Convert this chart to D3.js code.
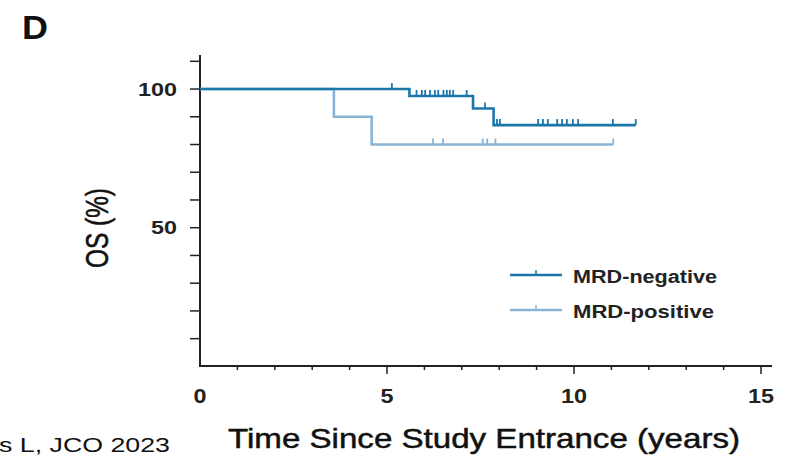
<!DOCTYPE html>
<html>
<head>
<meta charset="utf-8">
<script src="https://cdn.jsdelivr.net/npm/d3@7"></script>
<style>
  body { margin: 0; background: #fff; }
  svg { display: block; font-family: "Liberation Sans", Arial, sans-serif; }
</style>
</head>
<body>
<svg id="chart" width="790" height="459"></svg>
<script>
// KM steps: [time (years), OS %]
const negSteps = [[0, 100], [5.6, 97.5], [7.3, 93], [7.85, 87]];
const negEnd = 11.65;
const negCensor = [5.13, 5.79, 5.93, 6.02, 6.15, 6.28, 6.37, 6.51, 6.6, 6.68, 6.77, 7.13,
  7.62, 7.94, 8.02, 9.04, 9.17, 9.3, 9.55, 9.68, 9.81, 9.97, 10.11, 11.04, 11.65];

const posSteps = [[0, 100], [3.58, 90], [4.59, 80]];
const posEnd = 11.05;
const posCensor = [6.23, 6.5, 7.56, 7.68, 7.9, 11.05];

const xTicks = [0, 5, 10, 15];
const yTicks = [50, 100];
const series = ["MRD-negative", "MRD-positive"];
const colors = ["#1b77aa", "#88b5d7"];

const svg = d3.select("#chart");

const x = d3.scaleLinear().domain([0, 15]).range([200, 761]);
const y = d3.scaleLinear().domain([0, 110]).range([366.4, 61.3]);

// step function lookup
function survAt(steps, t) {
  let v = steps[0][1];
  steps.forEach(s => { if (s[0] <= t) v = s[1]; });
  return v;
}

// axes
const axisColor = "#222";
svg.append("line").attr("x1", 200).attr("x2", 200).attr("y1", 55).attr("y2", 366)
  .attr("stroke", axisColor).attr("stroke-width", 2);
svg.append("line").attr("x1", 199).attr("x2", 772).attr("y1", 366).attr("y2", 366)
  .attr("stroke", axisColor).attr("stroke-width", 2);

// y ticks every 10
d3.range(10, 111, 10).forEach(v => {
  svg.append("line").attr("x1", 190).attr("x2", 200).attr("y1", y(v)).attr("y2", y(v))
    .attr("stroke", axisColor).attr("stroke-width", 1.5);
});
yTicks.forEach(v => {
  const s = String(v);
  svg.append("text").attr("x", 177).attr("y", y(v) + 6.5)
    .attr("text-anchor", "end").attr("font-size", 19).attr("font-weight", "bold")
    .attr("fill", "#222")
    .attr("textLength", s.length * 13).attr("lengthAdjust", "spacingAndGlyphs")
    .text(s);
});

// x ticks every year
d3.range(1, 16).forEach(v => {
  const major = v % 5 === 0;
  svg.append("line").attr("x1", x(v)).attr("x2", x(v)).attr("y1", 366).attr("y2", major ? 374 : 370)
    .attr("stroke", axisColor).attr("stroke-width", 1.5);
});
xTicks.forEach(v => {
  const s = String(v);
  svg.append("text").attr("x", x(v)).attr("y", 403)
    .attr("text-anchor", "middle").attr("font-size", 21).attr("font-weight", "bold")
    .attr("fill", "#222")
    .attr("textLength", s.length * 13).attr("lengthAdjust", "spacingAndGlyphs")
    .text(s);
});

// curves
function drawCurve(steps, end, censor, color) {
  const pts = steps.map(d => [d[0], d[1]]);
  pts.push([end, steps[steps.length - 1][1]]);
  const line = d3.line().curve(d3.curveStepAfter).x(d => x(d[0])).y(d => y(d[1]));
  svg.append("path").datum(pts).attr("d", line)
    .attr("fill", "none").attr("stroke", color).attr("stroke-width", 2.6);
  svg.append("g").selectAll("line").data(censor).join("line")
    .attr("x1", d => x(d)).attr("x2", d => x(d))
    .attr("y1", d => y(survAt(steps, d))).attr("y2", d => y(survAt(steps, d)) - 6)
    .attr("stroke", color).attr("stroke-width", 1.8);
}
drawCurve(posSteps, posEnd, posCensor, colors[1]);
drawCurve(negSteps, negEnd, negCensor, colors[0]);

// legend
const legendY = [275, 310];
series.forEach((name, i) => {
  svg.append("line").attr("x1", 510).attr("x2", 562).attr("y1", legendY[i]).attr("y2", legendY[i])
    .attr("stroke", colors[i]).attr("stroke-width", 2.6);
  svg.append("line").attr("x1", 536).attr("x2", 536).attr("y1", legendY[i]).attr("y2", legendY[i] - 5)
    .attr("stroke", colors[i]).attr("stroke-width", 1.5);
  svg.append("text").attr("x", 573).attr("y", legendY[i] + 7.5)
    .attr("font-size", 18).attr("fill", "#222").attr("font-weight", "bold")
    .attr("textLength", i === 0 ? 144 : 141).attr("lengthAdjust", "spacingAndGlyphs")
    .text(name);
});

// titles
svg.append("text").attr("x", 22).attr("y", 39)
  .attr("font-size", 33).attr("font-weight", "bold").attr("fill", "#111")
  .attr("textLength", 26).attr("lengthAdjust", "spacingAndGlyphs")
  .text("D");

const narrow = "'Liberation Sans Narrow', 'Liberation Sans', sans-serif";

svg.append("text")
  .attr("transform", "translate(108,228) rotate(-90)")
  .attr("text-anchor", "middle")
  .attr("font-family", narrow)
  .attr("font-size", 31).attr("fill", "#111")
  .attr("stroke", "#111").attr("stroke-width", 0.6)
  .attr("textLength", 80).attr("lengthAdjust", "spacingAndGlyphs")
  .text("OS (%)");

svg.append("text").attr("x", 228).attr("y", 448)
  .attr("font-family", narrow)
  .attr("font-size", 28).attr("fill", "#111")
  .attr("stroke", "#111").attr("stroke-width", 0.5)
  .attr("textLength", 512).attr("lengthAdjust", "spacingAndGlyphs")
  .text("Time Since Study Entrance (years)");

svg.append("text").attr("x", -1).attr("y", 452)
  .attr("font-family", narrow)
  .attr("font-size", 21).attr("fill", "#111")
  .attr("textLength", 171).attr("lengthAdjust", "spacingAndGlyphs")
  .text("s L, JCO 2023");
</script>
</body>
</html>
